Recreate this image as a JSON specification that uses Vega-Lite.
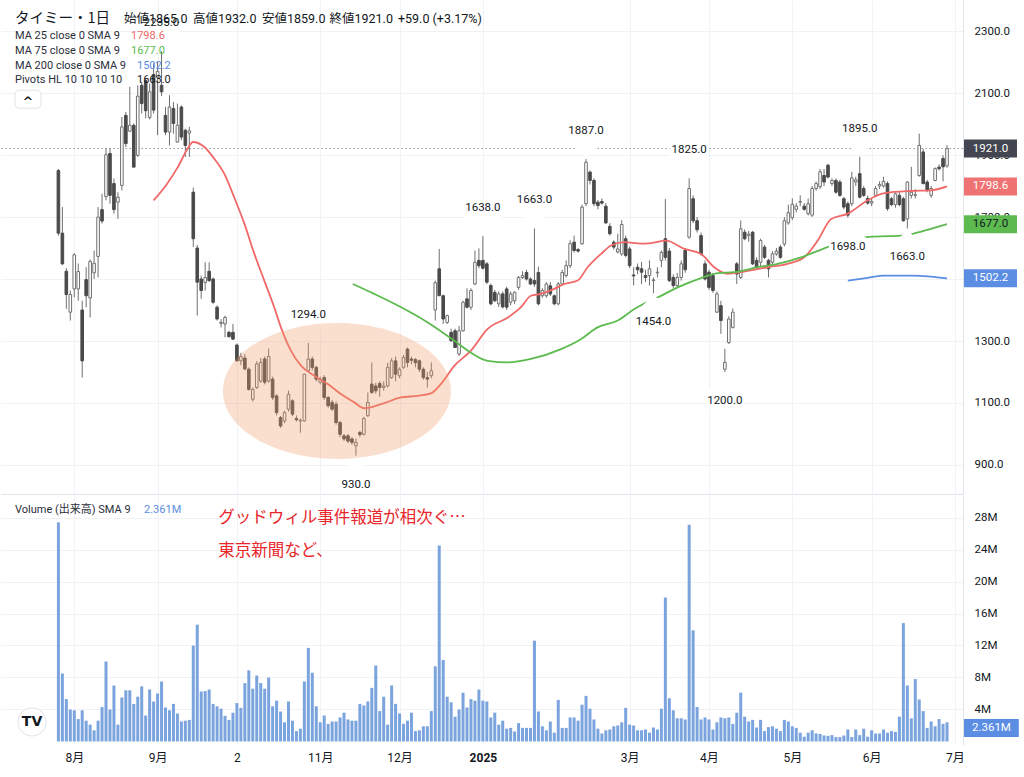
{
"$schema": "https://vega.github.io/schema/vega-lite/v6.json",
"padding": 0,
"background": "#ffffff",
"spacing": 2,
"config": {"view": {"stroke": null}, "axis": {"labelFont": "Roboto", "labelColor": "#131722"}},
"datasets": {
"bars": [
{"i":0,"o":1850,"h":1855,"l":1640,"c":1648,"v":27.4},
{"i":1,"o":1648,"h":1732,"l":1545,"c":1549,"v":8.5},
{"i":2,"o":1525,"h":1535,"l":1404,"c":1450,"v":5.3},
{"i":3,"o":1393,"h":1463,"l":1366,"c":1450,"v":4.0},
{"i":4,"o":1468,"h":1583,"l":1441,"c":1578,"v":3.9},
{"i":5,"o":1468,"h":1550,"l":1430,"c":1524,"v":2.8},
{"i":6,"o":1400,"h":1430,"l":1182,"c":1236,"v":3.9},
{"i":7,"o":1498,"h":1538,"l":1409,"c":1446,"v":2.6},
{"i":8,"o":1439,"h":1563,"l":1376,"c":1557,"v":2.1},
{"i":9,"o":1520,"h":1592,"l":1500,"c":1551,"v":1.4},
{"i":10,"o":1573,"h":1732,"l":1505,"c":1700,"v":2.6},
{"i":11,"o":1724,"h":1775,"l":1679,"c":1687,"v":4.3},
{"i":12,"o":1766,"h":1921,"l":1754,"c":1901,"v":10.0},
{"i":13,"o":1905,"h":1921,"l":1743,"c":1770,"v":4.0},
{"i":14,"o":1808,"h":1824,"l":1711,"c":1724,"v":7.0},
{"i":15,"o":1748,"h":1780,"l":1694,"c":1764,"v":2.1},
{"i":16,"o":1802,"h":2023,"l":1786,"c":1991,"v":5.5},
{"i":17,"o":2028,"h":2039,"l":1926,"c":1937,"v":6.4},
{"i":18,"o":1977,"h":2120,"l":1974,"c":1996,"v":6.4},
{"i":19,"o":1996,"h":2002,"l":1861,"c":1861,"v":4.7},
{"i":20,"o":1899,"h":2125,"l":1894,"c":2090,"v":5.6},
{"i":21,"o":2125,"h":2136,"l":2034,"c":2066,"v":6.9},
{"i":22,"o":2140,"h":2150,"l":2018,"c":2043,"v":3.25},
{"i":23,"o":2021,"h":2131,"l":2015,"c":2104,"v":6.5},
{"i":24,"o":2160,"h":2196,"l":2034,"c":2045,"v":5.0},
{"i":25,"o":2150,"h":2200,"l":1964,"c":2170,"v":6.0},
{"i":26,"o":2125,"h":2235,"l":2090,"c":2104,"v":7.5},
{"i":27,"o":2028,"h":2055,"l":1964,"c":1974,"v":4.25},
{"i":28,"o":1974,"h":2093,"l":1931,"c":2055,"v":3.9},
{"i":29,"o":2050,"h":2071,"l":1969,"c":2002,"v":4.7},
{"i":30,"o":1942,"h":2066,"l":1940,"c":1996,"v":3.5},
{"i":31,"o":2055,"h":2060,"l":1948,"c":1958,"v":2.5},
{"i":32,"o":1980,"h":1985,"l":1894,"c":1931,"v":2.6},
{"i":33,"o":1971,"h":1991,"l":1894,"c":1978,"v":2.7},
{"i":34,"o":1780,"h":1795,"l":1603,"c":1630,"v":12.0},
{"i":35,"o":1600,"h":1610,"l":1382,"c":1490,"v":14.6},
{"i":36,"o":1500,"h":1511,"l":1436,"c":1463,"v":6.25},
{"i":37,"o":1489,"h":1554,"l":1463,"c":1505,"v":6.3},
{"i":38,"o":1525,"h":1554,"l":1490,"c":1495,"v":6.5},
{"i":39,"o":1500,"h":1505,"l":1420,"c":1425,"v":4.7},
{"i":40,"o":1409,"h":1415,"l":1366,"c":1371,"v":4.4},
{"i":41,"o":1357,"h":1371,"l":1344,"c":1360,"v":4.1},
{"i":42,"o":1355,"h":1382,"l":1312,"c":1376,"v":3.2},
{"i":43,"o":1328,"h":1333,"l":1311,"c":1314,"v":2.7},
{"i":44,"o":1328,"h":1355,"l":1303,"c":1306,"v":3.6},
{"i":45,"o":1287,"h":1292,"l":1234,"c":1236,"v":4.8},
{"i":46,"o":1236,"h":1262,"l":1222,"c":1250,"v":4.2},
{"i":47,"o":1245,"h":1258,"l":1205,"c":1210,"v":7.3},
{"i":48,"o":1209,"h":1215,"l":1140,"c":1144,"v":8.9},
{"i":49,"o":1112,"h":1150,"l":1105,"c":1144,"v":6.6},
{"i":50,"o":1150,"h":1235,"l":1145,"c":1226,"v":8.25},
{"i":51,"o":1171,"h":1245,"l":1165,"c":1231,"v":7.3},
{"i":52,"o":1242,"h":1250,"l":1160,"c":1167,"v":6.6},
{"i":53,"o":1171,"h":1276,"l":1165,"c":1250,"v":8.0},
{"i":54,"o":1177,"h":1185,"l":1110,"c":1118,"v":4.4},
{"i":55,"o":1123,"h":1128,"l":1060,"c":1069,"v":5.1},
{"i":56,"o":1053,"h":1058,"l":1020,"c":1026,"v":3.75},
{"i":57,"o":1042,"h":1075,"l":1035,"c":1069,"v":2.4},
{"i":58,"o":1080,"h":1140,"l":1072,"c":1128,"v":5.0},
{"i":59,"o":1107,"h":1112,"l":1058,"c":1064,"v":2.6},
{"i":60,"o":1050,"h":1060,"l":1040,"c":1046,"v":1.3},
{"i":61,"o":1042,"h":1050,"l":1004,"c":1044,"v":1.6},
{"i":62,"o":1042,"h":1195,"l":1040,"c":1193,"v":7.5},
{"i":63,"o":1204,"h":1294,"l":1200,"c":1242,"v":11.7},
{"i":64,"o":1242,"h":1250,"l":1205,"c":1215,"v":8.6},
{"i":65,"o":1215,"h":1220,"l":1170,"c":1177,"v":4.4},
{"i":66,"o":1167,"h":1185,"l":1160,"c":1177,"v":2.4},
{"i":67,"o":1182,"h":1190,"l":1110,"c":1118,"v":3.25},
{"i":68,"o":1118,"h":1122,"l":1085,"c":1091,"v":2.2},
{"i":69,"o":1102,"h":1110,"l":1075,"c":1080,"v":2.5},
{"i":70,"o":1096,"h":1105,"l":1030,"c":1037,"v":2.5},
{"i":71,"o":1037,"h":1042,"l":990,"c":999,"v":3.0},
{"i":72,"o":994,"h":1000,"l":978,"c":984,"v":3.6},
{"i":73,"o":994,"h":1000,"l":970,"c":977,"v":2.75},
{"i":74,"o":984,"h":990,"l":965,"c":973,"v":2.6},
{"i":75,"o":962,"h":985,"l":930,"c":973,"v":2.6},
{"i":76,"o":1005,"h":1010,"l":990,"c":998,"v":4.7},
{"i":77,"o":999,"h":1055,"l":995,"c":1050,"v":4.5},
{"i":78,"o":1059,"h":1134,"l":1055,"c":1102,"v":5.0},
{"i":79,"o":1161,"h":1231,"l":1130,"c":1134,"v":6.7},
{"i":80,"o":1155,"h":1165,"l":1130,"c":1139,"v":9.5},
{"i":81,"o":1163,"h":1170,"l":1120,"c":1150,"v":3.8},
{"i":82,"o":1150,"h":1170,"l":1140,"c":1155,"v":5.6},
{"i":83,"o":1155,"h":1230,"l":1150,"c":1215,"v":2.1},
{"i":84,"o":1182,"h":1245,"l":1178,"c":1236,"v":7.0},
{"i":85,"o":1236,"h":1250,"l":1170,"c":1193,"v":4.7},
{"i":86,"o":1188,"h":1215,"l":1180,"c":1209,"v":3.5},
{"i":87,"o":1215,"h":1255,"l":1210,"c":1247,"v":2.2},
{"i":88,"o":1274,"h":1279,"l":1215,"c":1231,"v":2.6},
{"i":89,"o":1242,"h":1250,"l":1225,"c":1238,"v":3.6},
{"i":90,"o":1240,"h":1245,"l":1215,"c":1230,"v":1.3},
{"i":91,"o":1236,"h":1240,"l":1200,"c":1209,"v":1.4},
{"i":92,"o":1209,"h":1215,"l":1175,"c":1182,"v":1.9},
{"i":93,"o":1182,"h":1200,"l":1150,"c":1177,"v":1.9},
{"i":94,"o":1188,"h":1231,"l":1180,"c":1204,"v":3.8},
{"i":95,"o":1400,"h":1495,"l":1366,"c":1488,"v":9.4},
{"i":96,"o":1533,"h":1597,"l":1446,"c":1446,"v":24.5},
{"i":97,"o":1446,"h":1450,"l":1355,"c":1371,"v":10.2},
{"i":98,"o":1360,"h":1385,"l":1355,"c":1382,"v":5.6},
{"i":99,"o":1328,"h":1340,"l":1296,"c":1301,"v":4.9},
{"i":100,"o":1333,"h":1340,"l":1279,"c":1279,"v":3.1},
{"i":101,"o":1258,"h":1349,"l":1252,"c":1333,"v":4.0},
{"i":102,"o":1333,"h":1430,"l":1330,"c":1425,"v":6.1},
{"i":103,"o":1436,"h":1470,"l":1405,"c":1409,"v":4.25},
{"i":104,"o":1409,"h":1470,"l":1400,"c":1463,"v":5.3},
{"i":105,"o":1484,"h":1592,"l":1480,"c":1554,"v":5.1},
{"i":106,"o":1560,"h":1599,"l":1535,"c":1543,"v":6.5},
{"i":107,"o":1560,"h":1638,"l":1530,"c":1535,"v":5.1},
{"i":108,"o":1549,"h":1555,"l":1484,"c":1490,"v":5.0},
{"i":109,"o":1479,"h":1485,"l":1415,"c":1420,"v":3.0},
{"i":110,"o":1457,"h":1465,"l":1425,"c":1430,"v":3.6},
{"i":111,"o":1420,"h":1460,"l":1410,"c":1452,"v":2.1},
{"i":112,"o":1452,"h":1460,"l":1405,"c":1410,"v":2.6},
{"i":113,"o":1468,"h":1475,"l":1400,"c":1409,"v":1.6},
{"i":114,"o":1425,"h":1460,"l":1415,"c":1452,"v":1.7},
{"i":115,"o":1430,"h":1460,"l":1420,"c":1457,"v":1.25},
{"i":116,"o":1473,"h":1510,"l":1465,"c":1505,"v":2.3},
{"i":117,"o":1505,"h":1525,"l":1500,"c":1511,"v":1.7},
{"i":118,"o":1521,"h":1530,"l":1495,"c":1500,"v":1.7},
{"i":119,"o":1500,"h":1505,"l":1480,"c":1484,"v":1.7},
{"i":120,"o":1495,"h":1663,"l":1475,"c":1484,"v":12.6},
{"i":121,"o":1521,"h":1540,"l":1415,"c":1420,"v":3.75},
{"i":122,"o":1446,"h":1470,"l":1440,"c":1463,"v":1.9},
{"i":123,"o":1446,"h":1490,"l":1440,"c":1484,"v":1.4},
{"i":124,"o":1478,"h":1490,"l":1445,"c":1452,"v":2.5},
{"i":125,"o":1446,"h":1450,"l":1415,"c":1420,"v":1.1},
{"i":126,"o":1420,"h":1490,"l":1415,"c":1484,"v":5.2},
{"i":127,"o":1484,"h":1530,"l":1480,"c":1521,"v":1.7},
{"i":128,"o":1511,"h":1560,"l":1505,"c":1543,"v":1.7},
{"i":129,"o":1543,"h":1625,"l":1535,"c":1614,"v":3.0},
{"i":130,"o":1619,"h":1640,"l":1585,"c":1592,"v":3.0},
{"i":131,"o":1595,"h":1600,"l":1585,"c":1590,"v":2.6},
{"i":132,"o":1614,"h":1740,"l":1610,"c":1732,"v":4.6},
{"i":133,"o":1743,"h":1887,"l":1735,"c":1877,"v":5.7},
{"i":134,"o":1845,"h":1850,"l":1805,"c":1818,"v":4.1},
{"i":135,"o":1818,"h":1825,"l":1735,"c":1743,"v":2.75},
{"i":136,"o":1748,"h":1755,"l":1725,"c":1737,"v":1.6},
{"i":137,"o":1750,"h":1760,"l":1740,"c":1745,"v":1.0},
{"i":138,"o":1735,"h":1745,"l":1678,"c":1681,"v":1.4},
{"i":139,"o":1670,"h":1680,"l":1640,"c":1646,"v":1.5},
{"i":140,"o":1619,"h":1625,"l":1595,"c":1603,"v":1.9},
{"i":141,"o":1587,"h":1646,"l":1583,"c":1597,"v":2.0},
{"i":142,"o":1581,"h":1690,"l":1575,"c":1676,"v":2.4},
{"i":143,"o":1630,"h":1640,"l":1570,"c":1576,"v":4.2},
{"i":144,"o":1597,"h":1605,"l":1535,"c":1543,"v":2.1},
{"i":145,"o":1513,"h":1538,"l":1479,"c":1510,"v":2.0},
{"i":146,"o":1538,"h":1550,"l":1515,"c":1530,"v":1.4},
{"i":147,"o":1533,"h":1555,"l":1484,"c":1522,"v":1.4},
{"i":148,"o":1511,"h":1530,"l":1490,"c":1505,"v":1.5},
{"i":149,"o":1511,"h":1560,"l":1479,"c":1533,"v":1.1},
{"i":150,"o":1495,"h":1505,"l":1454,"c":1497,"v":1.75},
{"i":151,"o":1520,"h":1538,"l":1505,"c":1522,"v":1.5},
{"i":152,"o":1560,"h":1592,"l":1538,"c":1586,"v":4.1},
{"i":153,"o":1630,"h":1758,"l":1560,"c":1570,"v":18.0},
{"i":154,"o":1590,"h":1600,"l":1490,"c":1495,"v":5.4},
{"i":155,"o":1505,"h":1515,"l":1470,"c":1479,"v":3.9},
{"i":156,"o":1479,"h":1520,"l":1470,"c":1505,"v":2.9},
{"i":157,"o":1505,"h":1560,"l":1495,"c":1549,"v":2.9},
{"i":158,"o":1592,"h":1600,"l":1520,"c":1530,"v":2.75},
{"i":159,"o":1635,"h":1825,"l":1630,"c":1792,"v":27.1},
{"i":160,"o":1759,"h":1770,"l":1680,"c":1688,"v":13.9},
{"i":161,"o":1688,"h":1700,"l":1650,"c":1659,"v":4.3},
{"i":162,"o":1640,"h":1650,"l":1575,"c":1581,"v":2.75},
{"i":163,"o":1549,"h":1560,"l":1495,"c":1500,"v":3.0},
{"i":164,"o":1522,"h":1530,"l":1465,"c":1473,"v":2.75},
{"i":165,"o":1511,"h":1520,"l":1455,"c":1463,"v":1.5},
{"i":166,"o":1393,"h":1460,"l":1390,"c":1452,"v":2.4},
{"i":167,"o":1414,"h":1430,"l":1323,"c":1366,"v":3.0},
{"i":168,"o":1209,"h":1275,"l":1200,"c":1231,"v":2.9},
{"i":169,"o":1295,"h":1380,"l":1290,"c":1371,"v":3.0},
{"i":170,"o":1344,"h":1405,"l":1340,"c":1393,"v":2.2},
{"i":171,"o":1549,"h":1555,"l":1484,"c":1516,"v":3.6},
{"i":172,"o":1505,"h":1689,"l":1500,"c":1662,"v":6.1},
{"i":173,"o":1651,"h":1660,"l":1625,"c":1630,"v":3.1},
{"i":174,"o":1640,"h":1655,"l":1620,"c":1645,"v":2.5},
{"i":175,"o":1651,"h":1655,"l":1545,"c":1549,"v":2.7},
{"i":176,"o":1560,"h":1570,"l":1530,"c":1538,"v":1.75},
{"i":177,"o":1554,"h":1630,"l":1540,"c":1624,"v":2.7},
{"i":178,"o":1603,"h":1610,"l":1565,"c":1570,"v":1.3},
{"i":179,"o":1560,"h":1565,"l":1505,"c":1533,"v":1.8},
{"i":180,"o":1554,"h":1590,"l":1545,"c":1581,"v":1.9},
{"i":181,"o":1581,"h":1600,"l":1575,"c":1590,"v":1.6},
{"i":182,"o":1603,"h":1610,"l":1565,"c":1570,"v":1.3},
{"i":183,"o":1613,"h":1700,"l":1605,"c":1688,"v":2.7},
{"i":184,"o":1681,"h":1740,"l":1675,"c":1714,"v":2.5},
{"i":185,"o":1698,"h":1760,"l":1690,"c":1741,"v":1.9},
{"i":186,"o":1725,"h":1745,"l":1715,"c":1735,"v":1.7},
{"i":187,"o":1748,"h":1770,"l":1735,"c":1750,"v":1.1},
{"i":188,"o":1735,"h":1745,"l":1720,"c":1725,"v":0.6},
{"i":189,"o":1711,"h":1760,"l":1705,"c":1743,"v":1.1},
{"i":190,"o":1706,"h":1800,"l":1700,"c":1792,"v":1.4},
{"i":191,"o":1792,"h":1815,"l":1785,"c":1808,"v":1.0},
{"i":192,"o":1798,"h":1855,"l":1790,"c":1846,"v":0.95},
{"i":193,"o":1834,"h":1855,"l":1800,"c":1813,"v":0.75},
{"i":194,"o":1867,"h":1872,"l":1825,"c":1829,"v":0.7},
{"i":195,"o":1808,"h":1825,"l":1800,"c":1818,"v":0.8},
{"i":196,"o":1818,"h":1825,"l":1775,"c":1780,"v":0.55},
{"i":197,"o":1813,"h":1820,"l":1765,"c":1770,"v":0.55},
{"i":198,"o":1759,"h":1765,"l":1725,"c":1732,"v":0.75},
{"i":199,"o":1743,"h":1750,"l":1698,"c":1706,"v":1.5},
{"i":200,"o":1743,"h":1846,"l":1735,"c":1826,"v":0.55},
{"i":201,"o":1813,"h":1830,"l":1800,"c":1820,"v":1.5},
{"i":202,"o":1840,"h":1895,"l":1760,"c":1764,"v":0.8},
{"i":203,"o":1792,"h":1800,"l":1765,"c":1770,"v":1.6},
{"i":204,"o":1760,"h":1770,"l":1740,"c":1745,"v":0.6},
{"i":205,"o":1745,"h":1760,"l":1735,"c":1750,"v":1.4},
{"i":206,"o":1770,"h":1800,"l":1765,"c":1792,"v":1.0},
{"i":207,"o":1800,"h":1815,"l":1790,"c":1805,"v":1.0},
{"i":208,"o":1800,"h":1830,"l":1795,"c":1815,"v":1.5},
{"i":209,"o":1808,"h":1815,"l":1720,"c":1727,"v":1.1},
{"i":210,"o":1759,"h":1765,"l":1735,"c":1740,"v":1.3},
{"i":211,"o":1740,"h":1780,"l":1730,"c":1775,"v":1.2},
{"i":212,"o":1770,"h":1780,"l":1735,"c":1740,"v":3.1},
{"i":213,"o":1759,"h":1765,"l":1685,"c":1688,"v":14.8},
{"i":214,"o":1694,"h":1815,"l":1663,"c":1813,"v":7.0},
{"i":215,"o":1770,"h":1862,"l":1760,"c":1780,"v":2.9},
{"i":216,"o":1770,"h":1790,"l":1760,"c":1772,"v":7.8},
{"i":217,"o":1834,"h":1969,"l":1830,"c":1931,"v":5.25},
{"i":218,"o":1910,"h":1920,"l":1805,"c":1808,"v":3.8},
{"i":219,"o":1813,"h":1820,"l":1780,"c":1786,"v":1.7},
{"i":220,"o":1770,"h":1800,"l":1762,"c":1792,"v":2.5},
{"i":221,"o":1818,"h":1860,"l":1815,"c":1856,"v":1.9},
{"i":222,"o":1861,"h":1870,"l":1850,"c":1856,"v":2.8},
{"i":223,"o":1889,"h":1900,"l":1815,"c":1862,"v":2.2},
{"i":224,"o":1865,"h":1932,"l":1859,"c":1921,"v":2.4}
],
"ma25": [
{"i":24,"v":1754},{"i":27.1,"v":1802},{"i":30.1,"v":1861},{"i":32.6,"v":1921},{"i":33.9,"v":1942},{"i":36.8,"v":1926},{"i":39.3,"v":1888},{"i":41.8,"v":1840},{"i":44.3,"v":1764},{"i":46.9,"v":1678},{"i":49.4,"v":1581},{"i":51.9,"v":1495},{"i":54.4,"v":1409},{"i":56.1,"v":1344},{"i":58.6,"v":1269},{"i":61.2,"v":1220},{"i":64.5,"v":1188},{"i":67.9,"v":1161},{"i":71.2,"v":1129},{"i":74.6,"v":1102},{"i":77.1,"v":1083},{"i":81.3,"v":1096},{"i":86.4,"v":1118},{"i":90.6,"v":1123},{"i":93.9,"v":1131},{"i":96.4,"v":1161},{"i":99.8,"v":1220},{"i":104,"v":1269},{"i":108.2,"v":1339},{"i":113.3,"v":1376},{"i":116.6,"v":1409},{"i":119.1,"v":1446},{"i":121.6,"v":1452},{"i":125,"v":1468},{"i":127.5,"v":1484},{"i":130.9,"v":1495},{"i":133.4,"v":1538},{"i":136.8,"v":1581},{"i":139.3,"v":1608},{"i":142.7,"v":1619},{"i":146.9,"v":1614},{"i":149.4,"v":1616},{"i":153.2,"v":1624},{"i":157.8,"v":1597},{"i":162,"v":1581},{"i":165.3,"v":1538},{"i":168.7,"v":1517},{"i":172,"v":1522},{"i":178.8,"v":1538},{"i":183.8,"v":1549},{"i":188,"v":1570},{"i":191.4,"v":1624},{"i":194.8,"v":1694},{"i":199,"v":1711},{"i":204,"v":1754},{"i":208.2,"v":1777},{"i":214.9,"v":1784},{"i":219.9,"v":1786},{"i":224,"v":1799}
],
"ma75": [
{"i":74.2,"v":1484},{"i":79.6,"v":1452},{"i":86.4,"v":1409},{"i":93.1,"v":1360},{"i":99.8,"v":1301},{"i":104,"v":1262},{"i":108.2,"v":1236},{"i":113.3,"v":1231},{"i":119.1,"v":1242},{"i":126.7,"v":1274},{"i":131.7,"v":1306},{"i":135.9,"v":1344},{"i":141,"v":1366},{"i":145.2,"v":1403},{"i":147.7,"v":1421},{"i":151.1,"v":1441},{"i":156.1,"v":1473},{"i":162,"v":1503},{"i":166.2,"v":1519},{"i":170.4,"v":1522},{"i":176.3,"v":1538},{"i":181.3,"v":1549},{"i":187.2,"v":1570},{"i":193.9,"v":1603},{"i":200.6,"v":1630},{"i":205.7,"v":1637},{"i":212.4,"v":1640},{"i":215.4,"v":1646},{"i":219.9,"v":1662},{"i":224,"v":1677}
],
"ma200": [
{"i":199,"v":1495},{"i":204,"v":1504},{"i":208.2,"v":1511},{"i":214.9,"v":1511},{"i":219.9,"v":1508},{"i":224,"v":1502}
],
"pivots": [
{"i":26,"p":2235,"kind":"high"},{"i":63,"p":1294,"kind":"high"},{"i":75,"p":930,"kind":"low"},{"i":107,"p":1638,"kind":"high"},{"i":120,"p":1663,"kind":"high"},{"i":133,"p":1887,"kind":"high"},{"i":150,"p":1454,"kind":"low"},{"i":159,"p":1825,"kind":"high"},{"i":168,"p":1200,"kind":"low"},{"i":199,"p":1698,"kind":"low"},{"i":202,"p":1895,"kind":"high"},{"i":214,"p":1663,"kind":"low"}
]
},
"vconcat": [
{
"width": 962, "height": 494,
"data": {"values": [{}]},
"layer": [
{"mark": {"type": "rule", "color": "#9598a1", "strokeWidth": 1, "strokeDash": [1.5, 2.5]},
 "encoding": {"y": {"datum": 1921, "type": "quantitative"}}},
{"data": {"name": "bars"},
 "mark": {"type": "rule", "color": "#6f6f6f", "strokeWidth": 1},
 "encoding": {
  "x": {"field": "i", "type": "quantitative", "scale": {"domain": [-14.47, 228.03], "nice": false, "zero": false, "padding": 0},
   "axis": {"title": null, "values": [4,25,45,66,86,107,144,164,185,205,226], "labels": false, "ticks": false, "domain": true, "domainColor": "#e0e3eb", "grid": true, "gridColor": "#f0f2f6"}},
  "y": {"field": "l", "type": "quantitative", "scale": {"domain": [806.4, 2400.2], "nice": false, "zero": false, "padding": 0},
   "axis": {"title": null, "orient": "right", "values": [900,1000,1100,1200,1300,1400,1500,1600,1700,1800,1900,2000,2100,2200,2300], "format": ".1f", "ticks": false, "domain": true, "domainColor": "#e0e3eb", "grid": true, "gridColor": "#f0f2f6", "labelPadding": 11, "labelFontSize": 11.5, "labelOverlap": false, "labelBound": false}},
  "y2": {"field": "h"}
 }},
{"data": {"name": "bars"},
 "mark": {"type": "bar", "width": 2.6, "strokeWidth": 1},
 "encoding": {
  "x": {"field": "i", "type": "quantitative"},
  "y": {"field": "o", "type": "quantitative"},
  "y2": {"field": "c"},
  "color": {"condition": {"test": "datum.c >= datum.o", "value": "#ffffff"}, "value": "#4a4a4a"},
  "stroke": {"condition": {"test": "datum.c >= datum.o", "value": "#6f6f6f"}, "value": "#4a4a4a"}
 }},
{"data": {"name": "ma25"}, "mark": {"type": "line", "color": "#f06868", "strokeWidth": 1.8, "interpolate": "monotone"},
 "encoding": {"x": {"field": "i", "type": "quantitative"}, "y": {"field": "v", "type": "quantitative"}}},
{"data": {"name": "ma75"}, "mark": {"type": "line", "color": "#5cba4e", "strokeWidth": 1.8, "interpolate": "monotone"},
 "encoding": {"x": {"field": "i", "type": "quantitative"}, "y": {"field": "v", "type": "quantitative"}}},
{"data": {"name": "ma200"}, "mark": {"type": "line", "color": "#5b8ee3", "strokeWidth": 1.8, "interpolate": "monotone"},
 "encoding": {"x": {"field": "i", "type": "quantitative"}, "y": {"field": "v", "type": "quantitative"}}},
{"data": {"name": "pivots"}, "transform": [{"filter": "datum.kind == 'high'"}],
 "mark": {"type": "point", "shape": "M-19,-37H19V-19H18L0,-1L-18,-19H-19Z", "size": 4, "filled": true, "color": "#ffffff", "opacity": 1, "strokeWidth": 0},
 "encoding": {"x": {"field": "i", "type": "quantitative"}, "y": {"field": "p", "type": "quantitative"}}},
{"data": {"name": "pivots"}, "transform": [{"filter": "datum.kind == 'low'"}],
 "mark": {"type": "point", "shape": "M-19,37H19V20H18L0,1L-18,20H-19Z", "size": 4, "filled": true, "color": "#ffffff", "opacity": 1, "strokeWidth": 0},
 "encoding": {"x": {"field": "i", "type": "quantitative"}, "y": {"field": "p", "type": "quantitative"}}},
{"data": {"name": "pivots"}, "transform": [{"filter": "datum.kind == 'high'"}],
 "mark": {"type": "text", "dy": -28, "fontSize": 11.5, "font": "Roboto", "color": "#131722", "baseline": "middle"},
 "encoding": {"x": {"field": "i", "type": "quantitative"}, "y": {"field": "p", "type": "quantitative"}, "text": {"field": "p", "type": "quantitative", "format": ".1f"}}},
{"data": {"name": "pivots"}, "transform": [{"filter": "datum.kind == 'low'"}],
 "mark": {"type": "text", "dy": 29, "fontSize": 11.5, "font": "Roboto", "color": "#131722", "baseline": "middle"},
 "encoding": {"x": {"field": "i", "type": "quantitative"}, "y": {"field": "p", "type": "quantitative"}, "text": {"field": "p", "type": "quantitative", "format": ".1f"}}},
{"mark": {"type": "point", "shape": "M-114,0A114,68,0,1,0,114,0A114,68,0,1,0,-114,0Z", "size": 4, "filled": true, "color": "#ef9a66", "opacity": 0.32, "strokeWidth": 0},
 "encoding": {"x": {"datum": 70.2}, "y": {"datum": 1139}}},
{"mark": {"type": "text", "text": "タイミー・1日", "align": "left", "baseline": "middle", "fontSize": 14.5, "font": "Noto Sans CJK JP", "color": "#131722"},
 "encoding": {"x": {"datum": -10.94}, "y": {"datum": 2338.8}}},
{"mark": {"type": "text", "text": "始値1865.0", "align": "left", "baseline": "middle", "fontSize": 12.5, "font": "Roboto, 'Noto Sans CJK JP'", "color": "#131722"},
 "encoding": {"x": {"datum": 16.54}, "y": {"datum": 2338.8}}},
{"mark": {"type": "text", "text": "高値1932.0", "align": "left", "baseline": "middle", "fontSize": 12.5, "font": "Roboto, 'Noto Sans CJK JP'", "color": "#131722"},
 "encoding": {"x": {"datum": 33.93}, "y": {"datum": 2338.8}}},
{"mark": {"type": "text", "text": "安値1859.0", "align": "left", "baseline": "middle", "fontSize": 12.5, "font": "Roboto, 'Noto Sans CJK JP'", "color": "#131722"},
 "encoding": {"x": {"datum": 51.32}, "y": {"datum": 2338.8}}},
{"mark": {"type": "text", "text": "終値1921.0", "align": "left", "baseline": "middle", "fontSize": 12.5, "font": "Roboto, 'Noto Sans CJK JP'", "color": "#131722"},
 "encoding": {"x": {"datum": 68.34}, "y": {"datum": 2338.8}}},
{"mark": {"type": "text", "text": "+59.0 (+3.17%)", "align": "left", "baseline": "middle", "fontSize": 12.5, "font": "Roboto", "color": "#131722"},
 "encoding": {"x": {"datum": 85.6}, "y": {"datum": 2338.8}}},
{"mark": {"type": "text", "text": "MA 25 close 0 SMA 9", "align": "left", "baseline": "middle", "fontSize": 11, "font": "Roboto", "color": "#2a2e39"},
 "encoding": {"x": {"datum": -10.94}, "y": {"datum": 2283.8}}},
{"mark": {"type": "text", "text": "1798.6", "align": "left", "baseline": "middle", "fontSize": 11, "font": "Roboto", "color": "#f06868"},
 "encoding": {"x": {"datum": 18.3}, "y": {"datum": 2283.8}}},
{"mark": {"type": "text", "text": "MA 75 close 0 SMA 9", "align": "left", "baseline": "middle", "fontSize": 11, "font": "Roboto", "color": "#2a2e39"},
 "encoding": {"x": {"datum": -10.94}, "y": {"datum": 2235.3}}},
{"mark": {"type": "text", "text": "1677.0", "align": "left", "baseline": "middle", "fontSize": 11, "font": "Roboto", "color": "#5cba4e"},
 "encoding": {"x": {"datum": 18.3}, "y": {"datum": 2235.3}}},
{"mark": {"type": "text", "text": "MA 200 close 0 SMA 9", "align": "left", "baseline": "middle", "fontSize": 11, "font": "Roboto", "color": "#2a2e39"},
 "encoding": {"x": {"datum": -10.94}, "y": {"datum": 2186.8}}},
{"mark": {"type": "text", "text": "1502.2", "align": "left", "baseline": "middle", "fontSize": 11, "font": "Roboto", "color": "#5b8ee3"},
 "encoding": {"x": {"datum": 19.8}, "y": {"datum": 2186.8}}},
{"mark": {"type": "text", "text": "Pivots HL 10 10 10 10", "align": "left", "baseline": "middle", "fontSize": 11, "font": "Roboto", "color": "#2a2e39"},
 "encoding": {"x": {"datum": -10.94}, "y": {"datum": 2141.6}}},
{"mark": {"type": "text", "text": "1663.0", "align": "left", "baseline": "middle", "fontSize": 11, "font": "Roboto", "color": "#131722"},
 "encoding": {"x": {"datum": 19.8}, "y": {"datum": 2141.6}}},
{"mark": {"type": "rect", "fill": "#ffffff", "stroke": "#e0e3eb", "strokeWidth": 1, "cornerRadius": 4},
 "encoding": {"x": {"datum": -10.94}, "x2": {"datum": -4.39}, "y": {"datum": 2109.2}, "y2": {"datum": 2051.0}}},
{"mark": {"type": "text", "text": "^", "align": "center", "baseline": "middle", "fontSize": 13, "font": "DejaVu Sans", "fontWeight": "bold", "color": "#131722", "dy": 3},
 "encoding": {"x": {"datum": -7.66}, "y": {"datum": 2080.1}}},
{"mark": {"type": "rect", "fill": "#434651"},
 "encoding": {"x": {"datum": 228.28}, "x2": {"datum": 241.64}, "y": {"datum": 1950.1}, "y2": {"datum": 1891.9}}},
{"mark": {"type": "text", "text": "1921.0", "align": "center", "baseline": "middle", "fontSize": 11.5, "font": "Roboto", "color": "#ffffff"},
 "encoding": {"x": {"datum": 234.96}, "y": {"datum": 1921}}},
{"mark": {"type": "rect", "fill": "#f07373"},
 "encoding": {"x": {"datum": 228.28}, "x2": {"datum": 241.64}, "y": {"datum": 1827.7}, "y2": {"datum": 1769.5}}},
{"mark": {"type": "text", "text": "1798.6", "align": "center", "baseline": "middle", "fontSize": 11.5, "font": "Roboto", "color": "#ffffff"},
 "encoding": {"x": {"datum": 234.96}, "y": {"datum": 1798.6}}},
{"mark": {"type": "rect", "fill": "#5cba4e"},
 "encoding": {"x": {"datum": 228.28}, "x2": {"datum": 241.64}, "y": {"datum": 1706.1}, "y2": {"datum": 1647.9}}},
{"mark": {"type": "text", "text": "1677.0", "align": "center", "baseline": "middle", "fontSize": 11.5, "font": "Roboto", "color": "#131722"},
 "encoding": {"x": {"datum": 234.96}, "y": {"datum": 1677}}},
{"mark": {"type": "rect", "fill": "#5b8ee3"},
 "encoding": {"x": {"datum": 228.28}, "x2": {"datum": 241.64}, "y": {"datum": 1531.3}, "y2": {"datum": 1473.1}}},
{"mark": {"type": "text", "text": "1502.2", "align": "center", "baseline": "middle", "fontSize": 11.5, "font": "Roboto", "color": "#ffffff"},
 "encoding": {"x": {"datum": 234.96}, "y": {"datum": 1502.2}}}
]
},
{
"width": 962, "height": 249,
"data": {"values": [{}]},
"layer": [
{"data": {"name": "bars"},
 "mark": {"type": "bar", "width": 3, "color": "#7ba4de"},
 "encoding": {
  "x": {"field": "i", "type": "quantitative", "scale": {"domain": [-14.47, 228.03], "nice": false, "zero": false, "padding": 0},
   "axis": {"title": null, "values": [4,25,45,66,86,107,144,164,185,205,226],
    "labelExpr": "['8月','9月','2','11月','12月','2025','3月','4月','5月','6月','7月'][indexof([4,25,45,66,86,107,144,164,185,205,226], datum.value)]",
    "labelFontWeight": {"condition": {"test": "datum.value == 107", "value": "bold"}, "value": "normal"},
    "labelFont": "Roboto, 'Noto Sans CJK JP'", "labelFontSize": 12, "labelPadding": 7, "ticks": false, "domain": false, "grid": true, "gridColor": "#f0f2f6", "labelOverlap": false, "labelBound": false}},
  "y": {"field": "v", "type": "quantitative", "scale": {"domain": [-0.44, 30.69], "nice": false, "zero": false, "padding": 0},
   "axis": {"title": null, "orient": "right", "values": [4,8,12,16,20,24,28], "labelExpr": "datum.value + 'M'", "ticks": false, "domain": true, "domainColor": "#e0e3eb", "grid": true, "gridColor": "#f0f2f6", "labelPadding": 11, "labelFontSize": 11.5, "labelOverlap": false, "labelBound": false}}
 }},
{"mark": {"type": "text", "text": "Volume (出来高) SMA 9", "align": "left", "baseline": "middle", "fontSize": 11, "font": "Roboto, 'Noto Sans CJK JP'", "color": "#2a2e39"},
 "encoding": {"x": {"datum": -10.94}, "y": {"datum": 28.94}}},
{"mark": {"type": "text", "text": "2.361M", "align": "left", "baseline": "middle", "fontSize": 11, "font": "Roboto", "color": "#5b8ee3"},
 "encoding": {"x": {"datum": 21.58}, "y": {"datum": 28.94}}},
{"mark": {"type": "text", "text": "グッドウィル事件報道が相次ぐ…", "align": "left", "baseline": "middle", "fontSize": 16.5, "font": "Noto Sans CJK JP", "color": "#e8262b"},
 "encoding": {"x": {"datum": 40.28}, "y": {"datum": 27.94}}},
{"mark": {"type": "text", "text": "東京新聞など、", "align": "left", "baseline": "middle", "fontSize": 16.5, "font": "Noto Sans CJK JP", "color": "#e8262b"},
 "encoding": {"x": {"datum": 40.28}, "y": {"datum": 23.81}}},
{"mark": {"type": "point", "shape": "circle", "size": 800, "filled": true, "color": "#ffffff", "opacity": 1, "stroke": "#e0e3eb", "strokeWidth": 1},
 "encoding": {"x": {"datum": -6.65}, "y": {"datum": 2.44}}},
{"mark": {"type": "text", "text": "TV", "align": "center", "baseline": "middle", "fontSize": 14, "font": "DejaVu Sans", "fontWeight": "bold", "color": "#131722"},
 "encoding": {"x": {"datum": -6.65}, "y": {"datum": 2.44}}},
{"mark": {"type": "rect", "fill": "#5b8ee3"},
 "encoding": {"x": {"datum": 228.28}, "x2": {"datum": 242.1}, "y": {"datum": 2.82}, "y2": {"datum": 0.57}}},
{"mark": {"type": "text", "text": "2.361M", "align": "center", "baseline": "middle", "fontSize": 11.5, "font": "Roboto", "color": "#ffffff"},
 "encoding": {"x": {"datum": 235.2}, "y": {"datum": 1.69}}}
]
}
]
}
